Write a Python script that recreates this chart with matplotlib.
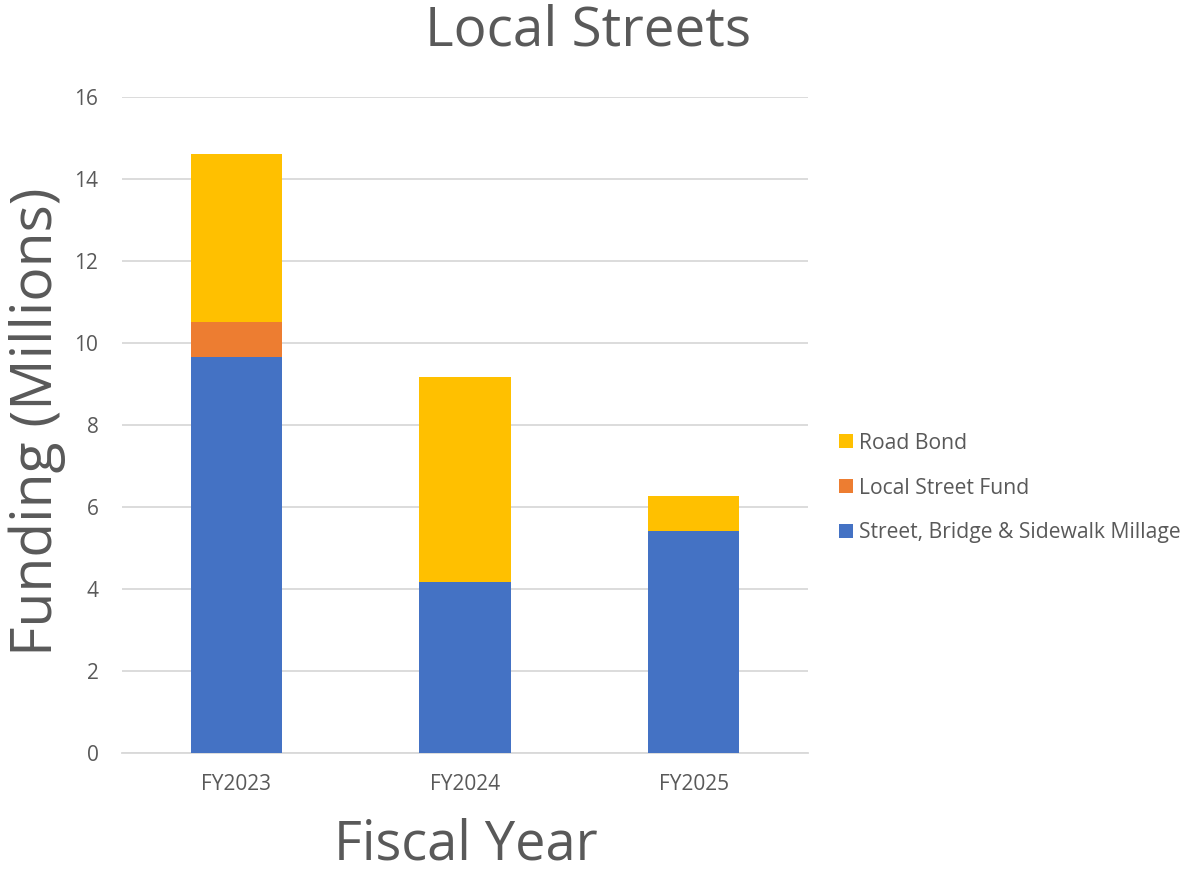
import matplotlib
matplotlib.use("Agg")
import matplotlib.pyplot as plt
import numpy as np

plt.rcParams['font.family'] = ['Open Sans', 'DejaVu Sans']

categories = ["FY2023", "FY2024", "FY2025"]
millage = [9.65, 4.17, 5.41]
local_fund = [0.85, 0.0, 0.0]
road_bond = [4.12, 5.00, 0.87]
yticks = [0, 2, 4, 6, 8, 10, 12, 14, 16]

c_blue = "#4472C4"
c_orange = "#ED7D31"
c_yellow = "#FFC000"
gray = "#595959"

fig = plt.figure(figsize=(11.91, 8.74), dpi=100)
ax = fig.add_axes([122/1191, 1-753/874, (808-122)/1191, (753-97)/874])

x = np.arange(len(categories))
w = 0.4
b1 = ax.bar(x, millage, w, color=c_blue, label="Street, Bridge & Sidewalk Millage", zorder=3)
b2 = ax.bar(x, local_fund, w, bottom=millage, color=c_orange, label="Local Street Fund", zorder=3)
bottom2 = np.array(millage) + np.array(local_fund)
b3 = ax.bar(x, road_bond, w, bottom=bottom2, color=c_yellow, label="Road Bond", zorder=3)

ax.set_xlim(-0.5, 2.5)
ax.set_ylim(0, 16)
ax.set_yticks(yticks)
ax.set_xticks(x)
ax.set_xticklabels(categories)
ax.tick_params(axis='both', length=0, labelsize=15, colors=gray)
ax.tick_params(axis='x', pad=15)
ax.tick_params(axis='y', pad=17)
ax.grid(axis='y', color="#D9D9D9", linewidth=1.3, zorder=0)
for s in ["top", "right", "left"]:
    ax.spines[s].set_visible(False)
ax.spines["bottom"].set_color("#D9D9D9")
ax.spines["bottom"].set_linewidth(1.3)

fig.text(588/1191, 1-46/874, "Local Streets", ha="center", va="baseline", fontsize=39.5, color=gray)
fig.text(466/1191, 1-859/874, "Fiscal Year", ha="center", va="baseline", fontsize=39, color=gray)
fig.text(37/1191, 1-422/874, "Funding (Millions)", ha="center", va="center", rotation=90, fontsize=41, color=gray)

handles = [b3, b2, b1]
leg = fig.legend(handles, [h.get_label() for h in handles], loc="center left",
                 bbox_to_anchor=(839/1191, 1-488/874), frameon=False, fontsize=15.2,
                 borderpad=0, borderaxespad=0,
                 handlelength=0.66, handleheight=0.66, handletextpad=0.28, labelspacing=1.13,
                 labelcolor=gray)

fig.savefig("out.png", dpi=100)
